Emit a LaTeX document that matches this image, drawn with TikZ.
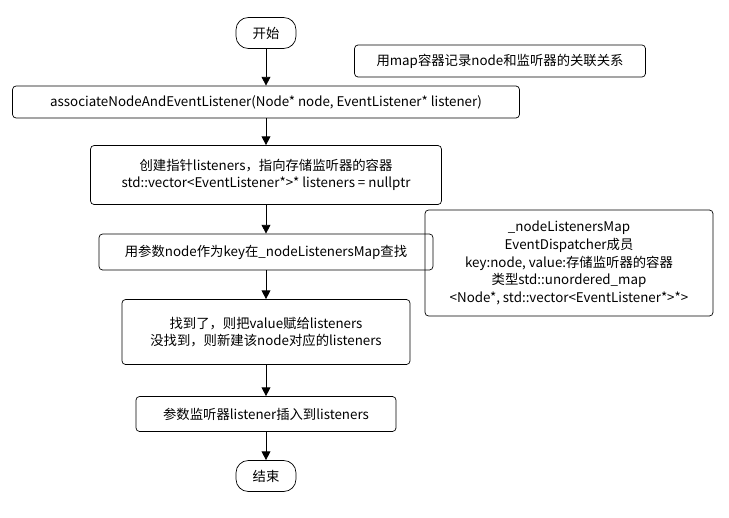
\documentclass[tikz,border=0pt]{standalone}
\usepackage{fontspec}
\setmainfont{Noto Sans CJK SC}
\usetikzlibrary{positioning, arrows.meta}
\tikzset{
  stepbox/.style={draw, rounded corners=2pt, align=center, font=\fontsize{7.6}{10}\selectfont, inner sep=2pt},
  termbox/.style={draw, rounded corners=7pt, align=center, font=\fontsize{7.6}{10}\selectfont, minimum width=1.2cm, minimum height=0.62cm},
  flow/.style={-{Triangle[length=5pt,width=5pt]}, line width=0.5pt}
}
\begin{document}
\begin{tikzpicture}[x=0.02cm, y=-0.02cm]
\useasboundingbox (0,0) rectangle (729,517);
\node[termbox] (start) at (266,33) {开始};
\node[stepbox, minimum width=5.82cm, minimum height=0.64cm] (note1) at (500,61) {用map容器记录node和监听器的关联关系};
\node[stepbox, minimum width=10.14cm, minimum height=0.64cm] (assoc) at (266,102) {associateNodeAndEventListener(Node* node, EventListener* listener)};
\node[stepbox, minimum width=7.02cm, minimum height=1.18cm] (create) at (266,175) {创建指针listeners，指向存储监听器的容器\\std::vector<EventListener*>* listeners = nullptr};
\node[stepbox, minimum width=6.68cm, minimum height=0.72cm] (find) at (266,252) {用参数node作为key在\_nodeListenersMap查找};
\node[stepbox, minimum width=5.76cm, minimum height=2.12cm] (note2) at (569,263) {\_nodeListenersMap\\EventDispatcher成员\\key:node, value:存储监听器的容器\\类型std::unordered\_map\\<Node*, std::vector<EventListener*>*>};
\node[stepbox, minimum width=5.76cm, minimum height=1.3cm] (found) at (266,332) {找到了，则把value赋给listeners\\没找到，则新建该node对应的listeners};
\node[stepbox, minimum width=5.2cm, minimum height=0.7cm] (insert) at (266,414) {参数监听器listener插入到listeners};
\node[termbox] (stop) at (266,476) {结束};
\draw[flow] (start) -- (assoc);
\draw[flow] (assoc) -- (create);
\draw[flow] (create) -- (find);
\draw[flow] (find) -- (found);
\draw[flow] (found) -- (insert);
\draw[flow] (insert) -- (stop);
\end{tikzpicture}
\end{document}
